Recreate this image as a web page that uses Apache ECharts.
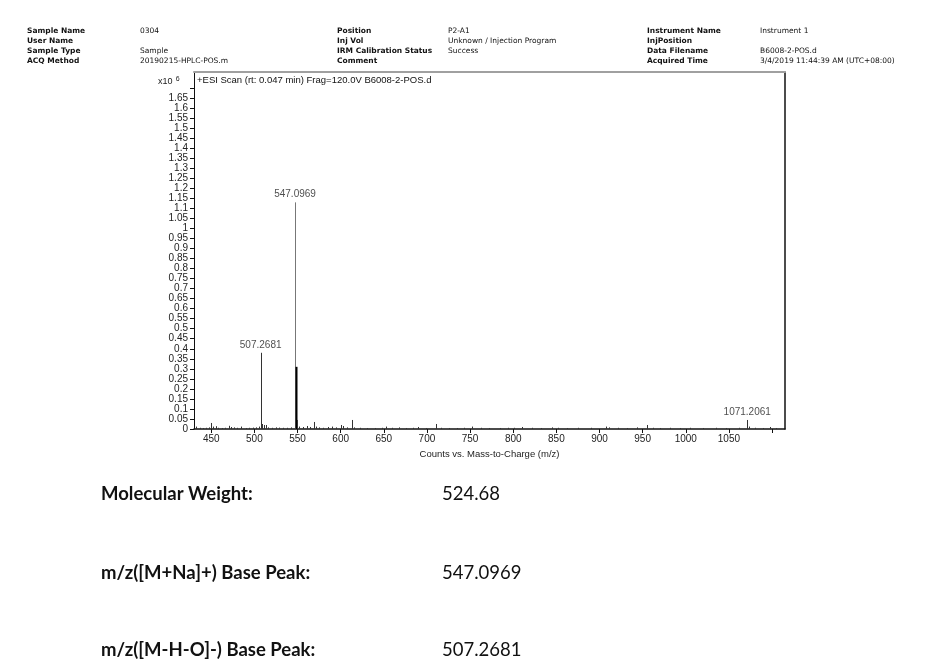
<!DOCTYPE html>
<html>
<head>
<meta charset="utf-8">
<script src="https://cdn.jsdelivr.net/npm/echarts@6/dist/echarts.min.js"></script>
<style>
  html, body { margin: 0; padding: 0; background: #fff; }
  #main { width: 937px; height: 665px; }
</style>
</head>
<body>
<div id="main"></div>
<script>
// header fields of the report
const headerLabels1 = ['Sample Name', 'User Name', 'Sample Type', 'ACQ Method'];
const headerValues1 = ['0304', '', 'Sample', '20190215-HPLC-POS.m'];
const headerLabels2 = ['Position', 'Inj Vol', 'IRM Calibration Status', 'Comment'];
const headerValues2 = ['P2-A1', 'Unknown / Injection Program', 'Success', ''];
const headerLabels3 = ['Instrument Name', 'InjPosition', 'Data Filename', 'Acquired Time'];
const headerValues3 = ['Instrument 1', '', 'B6008-2-POS.d', '3/4/2019 11:44:39 AM (UTC+08:00)'];

// spectrum sticks (m/z, counts x10^6)
const mzValues = [
  432, 437, 441, 444, 447, 450, 452, 455, 458, 462, 466, 470, 473, 476, 480, 484, 490, 494, 498,
  502, 505, 507.2681, 508.3, 509.3, 511, 513, 516, 520, 525, 529, 533, 538, 542,
  547.0969, 548.1, 549.1, 552, 556, 561, 565, 569.1, 571, 575, 580, 585, 590, 595,
  600, 603, 607, 612.9, 616, 622, 630, 640, 648, 653, 660, 668, 676, 684, 690, 699,
  710.8, 716, 725, 735, 743, 752, 763, 772, 785, 794, 801, 810, 822, 832, 845, 852, 862, 875, 890,
  907, 911, 921, 932, 944, 954.8, 962, 970, 982, 993, 1005, 1020, 1035, 1047, 1062,
  1071.2061, 1073, 1080, 1090, 1098, 1105
];
const intensities = [
  0.012, 0.006, 0.005, 0.006, 0.008, 0.03, 0.012, 0.014, 0.006, 0.005, 0.006, 0.016, 0.01, 0.008, 0.006, 0.012, 0.005, 0.006, 0.007,
  0.008, 0.012, 0.38, 0.02, 0.025, 0.02, 0.02, 0.008, 0.006, 0.008, 0.007, 0.006, 0.006, 0.008,
  1.13, 0.31, 0.045, 0.012, 0.01, 0.015, 0.01, 0.035, 0.012, 0.008, 0.006, 0.01, 0.012, 0.008,
  0.02, 0.015, 0.008, 0.045, 0.008, 0.006, 0.005, 0.005, 0.006, 0.012, 0.006, 0.008, 0.005, 0.006, 0.01, 0.005,
  0.025, 0.006, 0.005, 0.005, 0.006, 0.012, 0.006, 0.005, 0.005, 0.006, 0.006, 0.01, 0.006, 0.005, 0.008, 0.006, 0.005, 0.006, 0.006,
  0.012, 0.008, 0.006, 0.005, 0.008, 0.02, 0.006, 0.005, 0.006, 0.005, 0.006, 0.005, 0.006, 0.005, 0.006,
  0.045, 0.012, 0.006, 0.005, 0.01, 0.005
];

// annotated peaks
const labelledMz = [507.2681, 547.0969, 1071.2061];
const labelledHeights = [0.38, 1.13, 0.045];

// axis ticks
const xTicks = [450, 500, 550, 600, 650, 700, 750, 800, 850, 900, 950, 1000, 1050, 1100];
const xTickLabels = [450, 500, 550, 600, 650, 700, 750, 800, 850, 900, 950, 1000, 1050];
const yTicks = [0, 0.05, 0.1, 0.15, 0.2, 0.25, 0.3, 0.35, 0.4, 0.45, 0.5, 0.55, 0.6, 0.65, 0.7, 0.75, 0.8, 0.85,
  0.9, 0.95, 1, 1.05, 1.1, 1.15, 1.2, 1.25, 1.3, 1.35, 1.4, 1.45, 1.5, 1.55, 1.6, 1.65, 1.7];
const yTickLabels = yTicks.slice(0, 34);

// summary lines under the chart
const summaryLabels = ['Molecular Weight:', 'm/z([M+Na]+) Base Peak:', 'm/z([M-H-O]-) Base Peak:'];
const summaryValues = ['524.68', '547.0969', '507.2681'];

const chart = echarts.init(document.getElementById('main'));

const sticks = mzValues.map((mz, i) => [mz, intensities[i]]);
const peaks = labelledMz.map((mz, i) => [mz, labelledHeights[i]]);

function fmtY(v) {
  return String(parseFloat(v.toFixed(2)));
}

const graphics = [];
const headerRows = [32, 42, 52, 62];
const headerCols = [
  [27, headerLabels1, true], [140, headerValues1, false],
  [337, headerLabels2, true], [448, headerValues2, false],
  [647, headerLabels3, true], [760, headerValues3, false]
];
headerCols.forEach(col => {
  col[1].forEach((txt, r) => {
    graphics.push({
      type: 'text', left: col[0], top: headerRows[r] - 5,
      style: {
        text: txt, fill: '#111',
        fontFamily: 'DejaVu Sans', fontSize: 7.5,
        fontWeight: col[2] ? 'bold' : 'normal'
      }
    });
  });
});

// scale marker and scan title
graphics.push({
  type: 'text', left: 158, top: 76,
  style: {
    text: '{a|x10} {b|6}',
    rich: {
      a: { fontFamily: 'Liberation Sans', fontSize: 9, fill: '#222' },
      b: { fontFamily: 'Liberation Sans', fontSize: 7, fill: '#222', verticalAlign: 'top', padding: [0, 0, 4, 0] }
    }
  }
});
graphics.push({
  type: 'text', left: 197, top: 75,
  style: { text: '+ESI Scan (rt: 0.047 min) Frag=120.0V B6008-2-POS.d', fontFamily: 'Liberation Sans', fontSize: 9.5, fill: '#111' }
});

const summaryTops = [485, 564, 641];
summaryLabels.forEach((txt, i) => {
  graphics.push({
    type: 'text', left: 101, top: summaryTops[i],
    style: { text: txt, fontFamily: 'Lato', fontSize: 18.5, fontWeight: 'bold', fill: '#111' }
  });
  graphics.push({
    type: 'text', left: 442, top: summaryTops[i],
    style: { text: summaryValues[i], fontFamily: 'Lato', fontSize: 18.5, fill: '#111' }
  });
});

const option = {
  backgroundColor: '#ffffff',
  animation: false,
  grid: { left: 194, right: 152, top: 72, bottom: 236, containLabel: false },
  graphic: graphics,
  xAxis: [{
    type: 'value',
    min: 430,
    max: 1115,
    splitLine: { show: false },
    axisLine: { onZero: false, lineStyle: { color: '#111', width: 1.5 } },
    axisTick: { length: 4, lineStyle: { color: '#111' }, customValues: xTicks },
    axisLabel: {
      customValues: xTickLabels, color: '#222', fontSize: 10, fontFamily: 'Liberation Sans', margin: 5,
      formatter: v => String(v)
    },
    name: 'Counts vs. Mass-to-Charge (m/z)',
    nameLocation: 'middle',
    nameGap: 19,
    nameTextStyle: { color: '#222', fontSize: 9.5, fontFamily: 'Liberation Sans' }
  }, {
    type: 'value',
    position: 'top',
    min: 430,
    max: 1115,
    axisLine: { show: true, onZero: false, lineStyle: { color: '#a0a0a0', width: 2 } },
    axisTick: { show: false },
    axisLabel: { show: false },
    splitLine: { show: false }
  }],
  yAxis: [{
    type: 'value',
    min: 0,
    max: 1.78,
    splitLine: { show: false },
    axisLine: { show: true, onZero: false, lineStyle: { color: '#111', width: 1 } },
    axisTick: { show: true, length: 4, lineStyle: { color: '#111' }, customValues: yTicks },
    axisLabel: {
      customValues: yTickLabels, color: '#222', fontSize: 10, fontFamily: 'Liberation Sans', margin: 6,
      hideOverlap: false, showMinLabel: true, showMaxLabel: true,
      formatter: fmtY
    }
  }, {
    type: 'value',
    position: 'right',
    min: 0,
    max: 1.78,
    axisLine: { show: true, onZero: false, lineStyle: { color: '#111', width: 1.5 } },
    axisTick: { show: false },
    axisLabel: { show: false },
    splitLine: { show: false }
  }],
  series: [{
    type: 'custom',
    data: sticks,
    renderItem: function (params, api) {
      const top = api.coord([api.value(0), api.value(1)]);
      const base = api.coord([api.value(0), 0]);
      const x = Math.round(top[0]) + 0.5;
      const h = api.value(1);
      return {
        type: 'line',
        shape: { x1: x, y1: top[1], x2: x, y2: base[1] },
        style: { stroke: h > 1 ? '#777' : (h > 0.3 && h < 0.35 ? '#000' : '#333'), lineWidth: h > 0.3 && h < 0.35 ? 2 : 1 }
      };
    }
  }, {
    type: 'scatter',
    data: peaks,
    symbolSize: 0,
    label: {
      show: true,
      position: 'top',
      distance: 3,
      color: '#222',
      fontSize: 10,
      fontFamily: 'Liberation Sans',
      formatter: p => p.value[0].toFixed(4)
    }
  }]
};

chart.setOption(option);
</script>
</body>
</html>
